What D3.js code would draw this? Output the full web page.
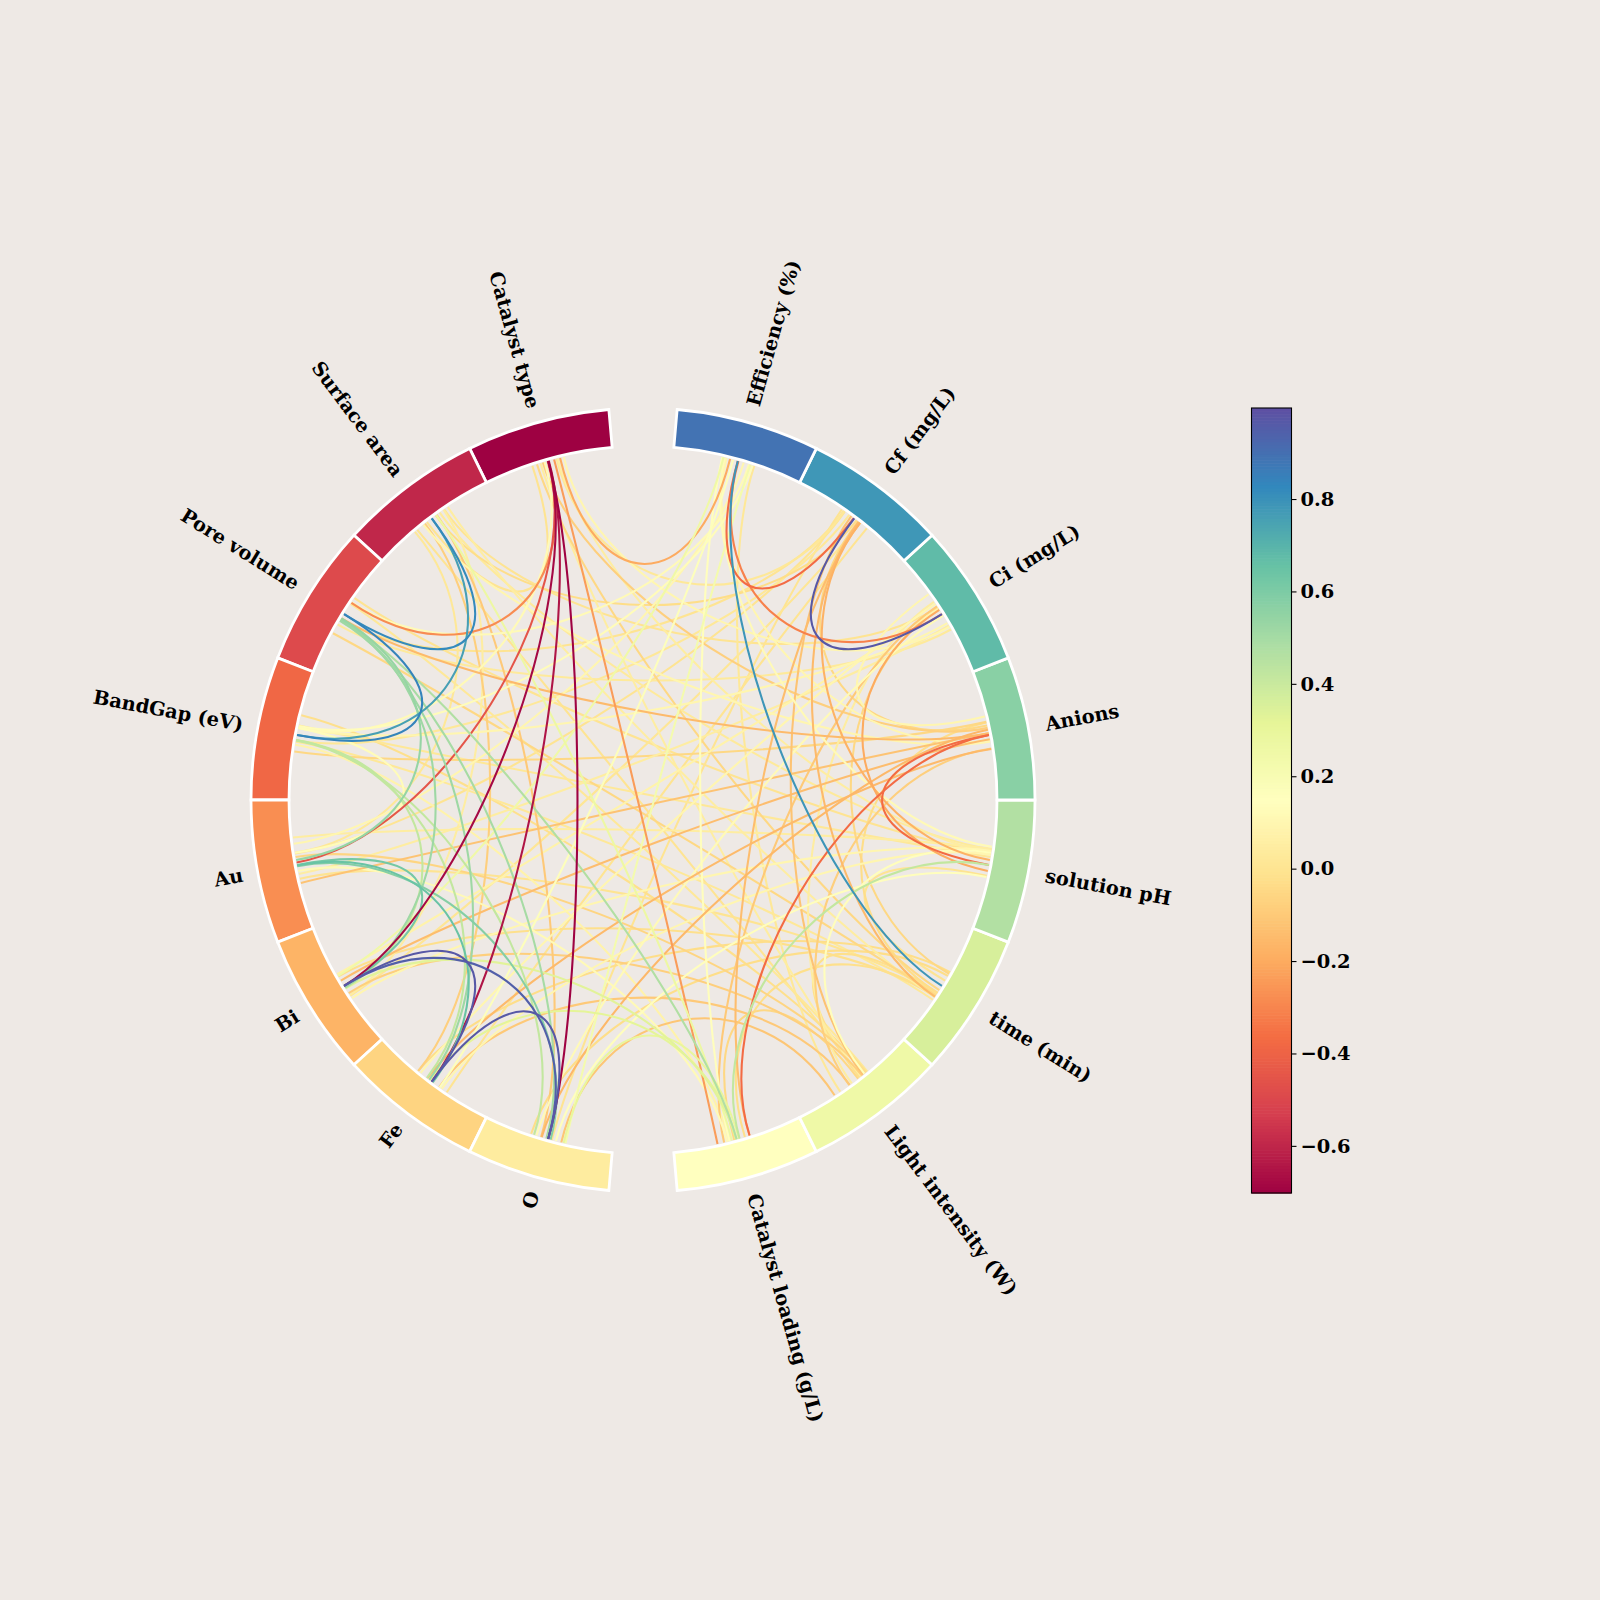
<!DOCTYPE html>
<html>
<head>
<meta charset="utf-8">
<script src="https://cdn.jsdelivr.net/npm/d3@7/dist/d3.min.js"></script>
<style>
  html, body { margin: 0; padding: 0; background: #EEE9E5; }
  svg { display: block; }
  text { font-family: "DejaVu Serif", serif; font-weight: bold; fill: #000; }
</style>
</head>
<body>
<svg id="chart" width="1600" height="1600"></svg>
<script>
// Variables, in the order their nodes run counter-clockwise from the upper gap.
const variables = ["Catalyst type", "Surface area", "Pore volume", "BandGap (eV)", "Au", "Bi", "Fe", "O",
  "Catalyst loading (g/L)", "Light intensity (W)", "time (min)", "solution pH", "Anions", "Ci (mg/L)", "Cf (mg/L)", "Efficiency (%)"];

// Node centre angles, degrees counter-clockwise from the +x axis.
const nodeAngles = [105.625, 126.875, 148.125, 169.375, 190.625, 211.875, 233.125, 254.375,
  285.625, 306.875, 328.125, 349.375, 10.625, 31.875, 53.125, 74.375];

// Upper triangle of the correlation matrix; each row starts at the next variable along.
const correlationRows = [
  [ 0.00,-0.28, 0.12,-0.45,-0.68,-0.65,-0.70,-0.24, 0.05,-0.05, 0.05,-0.08, 0.10, 0.02,-0.20],
  [ 0.82, 0.76, 0.02, 0.05,-0.08,-0.10, 0.27, 0.00, 0.05, 0.03, 0.10, 0.00,-0.03, 0.05],
  [ 0.84, 0.54, 0.52, 0.52, 0.50, 0.47, 0.02,-0.05, 0.00,-0.15, 0.03, 0.00, 0.12],
  [ 0.13, 0.42, 0.42, 0.42, 0.08,-0.02, 0.02, 0.02,-0.05, 0.10, 0.02, 0.13],
  [ 0.62, 0.65, 0.58, 0.12,-0.06, 0.00, 0.05,-0.12, 0.05, 0.00, 0.10],
  [ 0.97, 0.95, 0.33,-0.08,-0.02, 0.10,-0.14, 0.08, 0.01, 0.25],
  [ 0.97, 0.32,-0.10,-0.03, 0.10,-0.15, 0.10, 0.00, 0.16],
  [ 0.30,-0.11,-0.03, 0.14,-0.16, 0.12, 0.00, 0.22],
  [-0.05,-0.02, 0.42,-0.37,-0.10,-0.14, 0.14],
  [-0.02, 0.14,-0.08, 0.05,-0.12, 0.02],
  [ 0.00,-0.03,-0.05,-0.15, 0.79],
  [-0.37,-0.20,-0.18, 0.12],
  [ 0.10,-0.05, 0.10],
  [ 0.97,-0.31],
  [-0.37]
];

// Angular shift of each chord's end at its first node, degrees.
const startShiftRows = [
  [ 2.7, 0.1, 0.6, 0.0, 0.0,-0.1, 0.0,-1.0, 1.3, 1.9,-1.6, 0.9,-2.6,-1.4,-2.0],
  [ 0.0, 0.0, 3.5,-2.4, 1.4,-1.0,-0.9, 3.0,-3.2,-1.6, 1.7,-2.5,-0.8],
  [ 0.0, 0.8, 1.0, 1.2, 1.3, 1.0,-2.0, 3.6,-3.1, 0.8, 2.0, 1.0,-2.3],
  [-1.2, 0.8, 0.8, 0.9, 1.6,-3.3, 1.1,-1.6, 2.7,-1.2, 0.9,-1.5],
  [ 0.0, 0.1, 0.2, 1.0,-1.3, 2.3,-4.5, 3.0, 1.5,-1.9,-3.5],
  [ 0.0, 0.0, 0.5, 1.4,-1.8, 2.4,-1.0,-2.2, 1.9,-1.9],
  [ 0.0,-0.4, 1.5,-2.8, 2.0,-0.9,-2.3, 3.0, 1.6],
  [ 2.6, 2.2,-2.9, 1.3,-1.1,-2.0, 0.6, 2.9],
  [-0.6, 1.2, 0.3, 2.0,-2.3, 2.0,-1.4],
  [ 1.1, 2.1,-1.0,-0.5, 1.8,-2.8],
  [ 1.0,-1.4, 2.3,-2.1, 0.0],
  [ 0.0,-1.0, 0.8, 3.0],
  [ 3.1, 1.6,-0.8],
  [ 0.0, 0.0],
  [ 0.1]
];

// Angular shift of each chord's end at its second node, degrees.
const endShiftRows = [
  [ 1.0,-2.2,-1.2,-0.4, 0.0, 0.0, 0.0,-3.4, 1.4,-0.8, 2.1, 1.2,-2.4, 2.0, 1.3],
  [ 0.0, 0.0,-2.0, 1.8,-2.8,-1.2,-1.0, 1.4,-2.2, 2.6,-1.1, 1.3,-0.5],
  [ 0.0,-0.8, 0.3,-0.5,-0.3,-0.2, 2.7,-1.8, 1.9, 0.3,-2.9, 2.1,-1.9],
  [-2.0, 0.4,-1.0,-2.4,-1.4, 2.5,-2.7, 1.3, 2.2,-1.7, 1.0,-2.5],
  [ 0.0, 0.2, 0.4,-1.8, 2.2,-1.5, 2.6, 0.3,-2.2, 1.9,-1.0],
  [ 0.0, 0.0,-0.3, 1.6,-2.1, 2.3,-0.7, 1.0,-1.2, 2.4],
  [ 0.0,-0.2,-0.9, 2.6, 1.7,-2.3, 2.0,-2.6, 0.8],
  [ 0.2,-3.9, 1.9,-2.0, 0.9,-0.3, 2.5,-2.1],
  [ 0.8,-2.0, 0.0, 0.0, 1.5,-1.2, 2.6],
  [-1.3, 2.0,-2.2, 2.4, 0.6,-2.8],
  [-1.8, 2.1, 1.0,-0.9, 0.0],
  [ 0.0, 0.8,-1.2, 2.2],
  [ 3.9,-0.8, 1.9],
  [ 0.0,-0.1],
  [ 0.0]
];

const colorbarTicks = [-0.6, -0.4, -0.2, 0, 0.2, 0.4, 0.6, 0.8];
const spectralStops = ["#9e0142", "#d53e4f", "#f46d43", "#fdae61", "#fee08b", "#ffffbf",
  "#e6f598", "#abdda4", "#66c2a5", "#3288bd", "#5e4fa2"];

const valueRange = [-0.702, 0.997];
const cx = 643, cy = 800;
const ringInner = 354, ringOuter = 392, chordRadius = 352, controlRadius = 207;
const labelRadiusLeft = 407, labelRadiusRight = 409.5;
const nodeWidth = 21.25;
const fontSize = 19.44;

const spectral = d3.scaleLinear()
  .domain(d3.range(spectralStops.length).map(i => i / (spectralStops.length - 1)))
  .range(spectralStops)
  .interpolate(d3.interpolateRgb);
const unit = d3.scaleLinear().domain(valueRange).range([0, 1]).clamp(true);
const valueColor = v => spectral(unit(v));

// Screen point for a polar position given in degrees counter-clockwise from +x.
const rad = d3.scaleLinear().domain([0, 360]).range([0, 2 * Math.PI]);
const polar = (deg, r) => d3.pointRadial(rad(90 - deg), r);
const onLeft = deg => deg > 90 && deg < 270;

const svg = d3.select("#chart");
const wheel = svg.append("g").attr("transform", `translate(${cx},${cy})`);

// Flatten the triangular rows into chords and draw weakest first.
const chords = correlationRows.flatMap((row, i) => row.map((value, k) => ({
  source: i,
  target: i + k + 1,
  value,
  startShift: startShiftRows[i][k],
  endShift: endShiftRows[i][k]
}))).sort((a, b) => d3.ascending(Math.abs(a.value), Math.abs(b.value)));

const chordPath = c => {
  const a0 = nodeAngles[c.source] + c.startShift;
  const a1 = nodeAngles[c.target] + c.endShift;
  const p = d3.path();
  p.moveTo(...polar(a0, chordRadius));
  p.bezierCurveTo(...polar(a0, controlRadius), ...polar(a1, controlRadius), ...polar(a1, chordRadius));
  return p.toString();
};

wheel.append("g").selectAll("path").data(chords).join("path")
  .attr("d", chordPath)
  .attr("fill", "none")
  .attr("stroke", d => valueColor(d.value))
  .attr("stroke-width", 2.08);

// Ring of node segments.
const arc = d3.arc().innerRadius(ringInner).outerRadius(ringOuter);
wheel.append("g").selectAll("path").data(variables).join("path")
  .attr("d", (d, i) => arc({
    startAngle: rad(90 - nodeAngles[i] - nodeWidth / 2),
    endAngle: rad(90 - nodeAngles[i] + nodeWidth / 2)
  }))
  .attr("fill", (d, i) => spectral(i / variables.length))
  .attr("stroke", "#fff")
  .attr("stroke-width", 2.8);

// Radial labels; the left half is flipped so it stays readable.
wheel.append("g").selectAll("text").data(variables).join("text")
  .attr("font-size", fontSize)
  .attr("dominant-baseline", "central")
  .attr("text-anchor", (d, i) => onLeft(nodeAngles[i]) ? "end" : "start")
  .attr("transform", (d, i) => {
    const deg = nodeAngles[i];
    const [x, y] = polar(deg, onLeft(deg) ? labelRadiusLeft : labelRadiusRight);
    const turn = onLeft(deg) ? 180 - deg : -deg;
    return `translate(${x},${y}) rotate(${turn})`;
  })
  .text(d => d);

// Colour bar.
const barX = 1251.5, barW = 40, barTop = 408, barBottom = 1193;
const barScale = d3.scaleLinear().domain(valueRange).range([barBottom, barTop]);
const bar = svg.append("g");
const levels = d3.range(256);
const levelH = (barBottom - barTop) / 256;
bar.selectAll("rect.level").data(levels).join("rect")
  .attr("class", "level")
  .attr("x", barX)
  .attr("width", barW)
  .attr("y", d => barBottom - (d + 1) * levelH)
  .attr("height", levelH + 0.6)
  .attr("fill", d => spectral((d + 0.5) / 256));
bar.append("rect")
  .attr("x", barX).attr("y", barTop).attr("width", barW).attr("height", barBottom - barTop)
  .attr("fill", "none").attr("stroke", "#000").attr("stroke-width", 1.1);
const barAxis = d3.axisRight(barScale)
  .tickValues(colorbarTicks)
  .tickSize(5)
  .tickPadding(4)
  .tickFormat(d => d3.format(".1f")(d).replace("-", "\u2212"));
const axisG = bar.append("g").attr("transform", `translate(${barX + barW},0)`).call(barAxis);
axisG.select(".domain").remove();
axisG.selectAll("line").attr("stroke", "#000").attr("stroke-width", 1.1);
axisG.selectAll("text").attr("font-size", fontSize).attr("font-family", "DejaVu Serif").attr("font-weight", "bold").attr("fill", "#000");
</script>
</body>
</html>
